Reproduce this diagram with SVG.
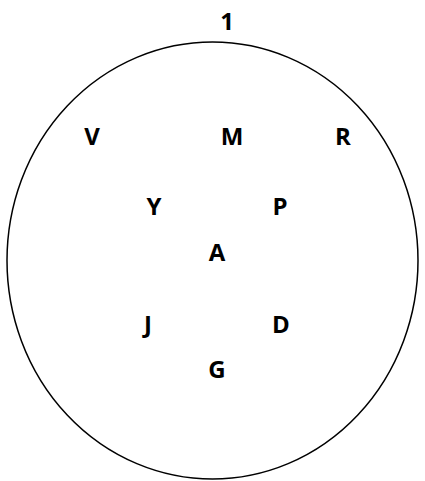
<svg xmlns="http://www.w3.org/2000/svg" width="425" height="481" viewBox="0 0 425 481">
<style>
.t{font-family:"Open Sans","Noto Sans","Liberation Sans",sans-serif;font-weight:700;font-size:24px;fill:#000;text-anchor:middle}
</style>
<rect width="425" height="481" fill="#fff"/>
<g id="set1">
<ellipse cx="212.5" cy="260.5" rx="205.5" ry="218.5" fill="none" stroke="#000" stroke-width="1.5"/>
<text class="t" x="227" y="30">1</text>
</g>
<g id="connectors"></g>
<g id="V"><text class="t" x="92" y="145">V</text></g>
<g id="M"><text class="t" x="232" y="145">M</text></g>
<g id="R"><text class="t" x="343" y="145">R</text></g>
<g id="Y"><text class="t" x="154" y="215">Y</text></g>
<g id="P"><text class="t" x="280" y="215">P</text></g>
<g id="A"><text class="t" x="217" y="261">A</text></g>
<g id="J"><text class="t" x="148" y="333">J</text></g>
<g id="D"><text class="t" x="281" y="333">D</text></g>
<g id="G"><text class="t" x="217" y="378">G</text></g>
</svg>
